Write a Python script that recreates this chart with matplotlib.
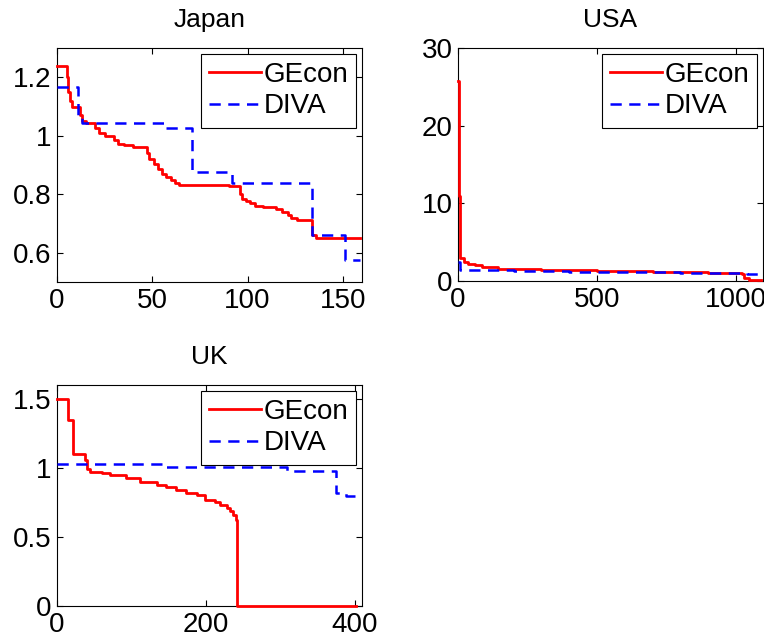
import matplotlib
matplotlib.use("Agg")
import matplotlib.pyplot as plt

plt.rcParams['font.family'] = ['Liberation Sans', 'DejaVu Sans']

# step data: value y[i] holds from x[i] to x[i+1]
jp_ge_x = [0, 5, 6, 7, 8, 12, 13, 15, 20, 22, 25, 30, 32, 35, 40, 47, 48, 51, 53, 55, 57, 60, 62, 64,
           90, 96, 97, 99, 101, 104, 108, 115, 118, 121, 123, 126, 134, 136, 159]
jp_ge_y = [1.24, 1.20, 1.15, 1.12, 1.10, 1.07, 1.05, 1.045, 1.025, 1.01, 1.0, 0.985, 0.972, 0.968, 0.963,
           0.94, 0.92, 0.905, 0.885, 0.87, 0.86, 0.848, 0.838, 0.83, 0.828, 0.80, 0.785, 0.777, 0.77,
           0.76, 0.755, 0.75, 0.74, 0.73, 0.72, 0.712, 0.66, 0.652, 0.652]
jp_dv_x = [0, 11, 13, 57, 71, 92, 134, 151, 159]
jp_dv_y = [1.165, 1.07, 1.045, 1.025, 0.875, 0.84, 0.66, 0.575, 0.575]

us_ge_x = [0, 4, 7, 20, 36, 60, 85, 144, 200, 300, 500, 700, 900, 1020, 1030, 1045, 1090]
us_ge_y = [25.7, 11.0, 2.9, 2.5, 2.2, 2.0, 1.8, 1.6, 1.5, 1.4, 1.25, 1.1, 1.0, 0.9, 0.4, 0.1, 0.1]
us_dv_x = [0, 8, 200, 400, 600, 800, 1040, 1090]
us_dv_y = [2.4, 1.4, 1.35, 1.2, 1.1, 1.0, 0.9, 0.9]

uk_ge_x = [0, 15, 21, 38, 40, 44, 60, 71, 93, 111, 134, 147, 160, 174, 188, 199, 212, 219, 228, 233,
           237, 240, 242, 402]
uk_ge_y = [1.5, 1.35, 1.10, 1.06, 0.99, 0.973, 0.96, 0.95, 0.925, 0.90, 0.877, 0.865, 0.84, 0.82,
           0.805, 0.768, 0.75, 0.73, 0.71, 0.69, 0.66, 0.62, 0.0, 0.0]
uk_dv_x = [0, 147, 309, 375, 388, 402]
uk_dv_y = [1.025, 1.005, 0.98, 0.815, 0.797, 0.797]

panels = [
    ("Japan", jp_ge_x, jp_ge_y, jp_dv_x, jp_dv_y, (0, 160), (0.5, 1.3), [0, 50, 100, 150],
     [0.6, 0.8, 1.0, 1.2], ["0.6", "0.8", "1", "1.2"], [57, 48, 305, 234]),
    ("USA", us_ge_x, us_ge_y, us_dv_x, us_dv_y, (0, 1097), (0, 30), [0, 500, 1000],
     [0, 10, 20, 30], ["0", "10", "20", "30"], [458, 48, 305, 233]),
    ("UK", uk_ge_x, uk_ge_y, uk_dv_x, uk_dv_y, (0, 410), (0, 1.6), [0, 200, 400],
     [0, 0.5, 1.0, 1.5], ["0", "0.5", "1", "1.5"], [57, 385, 305, 221]),
]

W, H = 764, 643
fig = plt.figure(figsize=(W / 100, H / 100), dpi=100)

for title, gx, gy, dx, dy, xl, yl, xt, yt, ytl, (px, py, pw, ph) in panels:
    ax = fig.add_axes([px / W, 1 - (py + ph) / H, pw / W, ph / H])
    ax.step(gx, gy, where='post', color='red', lw=2.0, label='GEcon', clip_on=False, zorder=3)
    ax.step(dx, dy, where='post', color='blue', lw=1.8, ls='--', dashes=(4.5, 3), label='DIVA',
            clip_on=False, zorder=3)
    ax.set_xlim(*xl)
    ax.set_ylim(*yl)
    ax.set_xticks(xt)
    ax.set_yticks(yt)
    ax.set_yticklabels(ytl)
    ax.tick_params(direction='in', top=True, right=True, labelsize=20, length=4, width=0.8, pad=4)
    for s in ax.spines.values():
        s.set_linewidth(0.8)
    ax.set_title(title, fontsize=19, pad=15)
    leg = ax.legend(loc='upper right', fontsize=20, fancybox=False, framealpha=1, edgecolor='black',
                    borderpad=0.3, labelspacing=0.2, handlelength=1.85, handletextpad=0.1,
                    borderaxespad=0.2)
    leg.get_frame().set_linewidth(0.8)

fig.savefig("out.png", dpi=100)
